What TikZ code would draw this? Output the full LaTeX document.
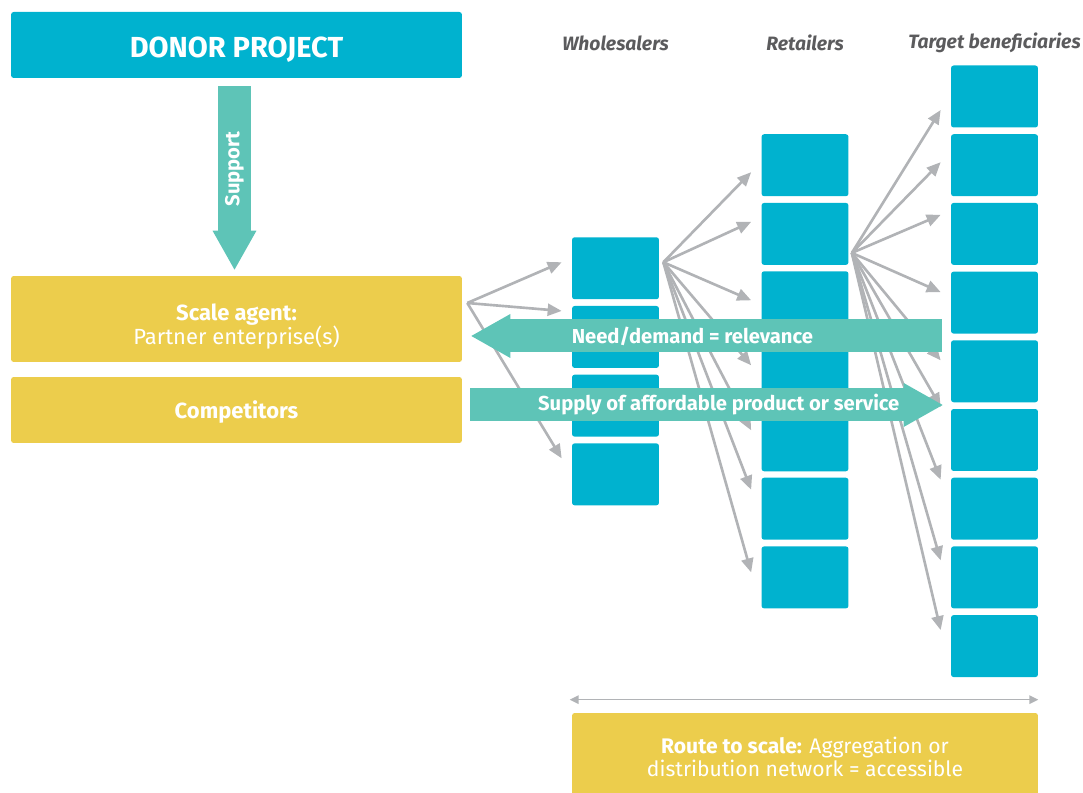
\documentclass[tikz,border=0pt]{standalone}
\usepackage{fontspec}
\setmainfont{Fira Sans}
\usetikzlibrary{arrows.meta,calc}
\definecolor{donorblue}{HTML}{00B2CF}
\definecolor{agentyellow}{HTML}{ECCD4C}
\definecolor{flowteal}{HTML}{5EC4B7}
\definecolor{fangray}{HTML}{B1B3B6}
\definecolor{labelgray}{HTML}{5B5B5D}

\begin{document}
\begin{tikzpicture}[x=0.02cm,y=-0.02cm,
        box/.style={rounded corners=1.5pt,inner sep=0pt,text=white,align=center},
        cell/.style={box,fill=donorblue,minimum width=1.74cm,minimum height=1.24cm},
        lane/.style={box,fill=agentyellow,minimum width=9.02cm},
        fan/.style={fangray,line width=1.5pt,-{Triangle[length=0.28cm,width=0.24cm]}},
        band/.style={flowteal,line width=0.66cm},
        head/.style={-{Triangle[length=0.78cm,width=0.88cm,line width=0pt]}},
        bandtext/.style={text=white,font=\fontsize{11.5}{13}\selectfont\bfseries},
        colhead/.style={text=labelgray,font=\fontsize{11}{13}\selectfont\bfseries\itshape}]
    \clip (0,0) rectangle (1083,793);
    % left side
    \node[box,fill=donorblue,minimum width=9.02cm,minimum height=1.32cm,text height=14.8pt,text depth=0pt,
          font=\fontsize{16.5}{18}\selectfont\bfseries] (donor) at (236.5,45) {DONOR PROJECT};
    \node[lane,minimum height=1.72cm,font=\fontsize{12.5}{14}\selectfont] (agent) at (236.5,319)
          {\rule{0pt}{18pt}\textbf{Scale agent:}\\Partner enterprise(s)};
    \node[lane,minimum height=1.32cm,text depth=0pt,font=\fontsize{12.5}{14}\selectfont\bfseries] (rivals) at (236.5,410)
          {Competitors};
    % the three columns
    \foreach \i in {1,...,4}
        \node[cell] (w\i) at (615.5,{268.25+68.7*(\i-1)}) {};
    \foreach \i/\u in {1/1,2/2,4/6,5/7}
        \node[cell] (r\i) at (805,{96.5+68.7*\u}) {};
    \node[cell,minimum height=4cm] (r3) at (805,371.3) {};
    \foreach \i in {1,...,9}
        \node[cell] (t\i) at (994.5,{96.5+68.7*(\i-1)}) {};
    \node[colhead] (wlab) at (615.5,43) {Wholesalers};
    \node[colhead] (rlab) at (805,43) {Retailers};
    \node[colhead] (tlab) at (994.5,43) {Target beneficiaries};
    \node[lane,minimum width=9.32cm,minimum height=1.76cm,font=\fontsize{12}{13.5}\selectfont] (route) at (805,757)
          {\textbf{Route to scale:} Aggregation or\\distribution network = accessible};
    % fans
    \coordinate (agentfan) at ($(agent.east)+(5,-16)$);
    \coordinate (wholefan) at ($(w1.east)+(4,-6)$);
    \coordinate (retailfan) at ($(r2.east)+(3,19)$);
    \foreach \b/\dy in {w1/-6,w2/-26,w4/-16}
        \draw[fan] (agentfan) -- ($(\b.west)+(-10,\dy)$);
    \foreach \b/\dy in {r1/7,r2/-12,r3/-71,r3/-6,r3/59,r4/-19,r5/-5}
        \draw[fan] (wholefan) -- ($(\b.west)+(-10,\dy)$);
    \foreach \b/\dy in {t1/13.5,t2/-3,t3/-19,t4/-10.5,t5/-11,t6/-33,t7/-29,t8/-17,t9/-16}
        \draw[fan] (retailfan) -- ($(\b.west)+(-10,\dy)$);
    \draw[fangray,line width=0.9pt,{Triangle[length=0.18cm,width=0.17cm]}-{Triangle[length=0.18cm,width=0.17cm]}]
        ($(route.north west)+(-2,-13)$) -- ($(route.north east)+(0,-13)$);
    % big flows
    \draw[band,head] ($(donor.south)+(-2,8)$) -- ($(agent.north)+(-2,-6)$)
        node[pos=0.45,rotate=90,bandtext] (support) {Support};
    \coordinate (needfrom) at ($(t4.west)+(-9,33.4)$);
    \coordinate (supplyto) at ($(t6.west)+(-8,-35)$);
    \draw[band,head] (needfrom) -- ($(agent.east |- needfrom)+(9,0)$)
        node[pos=0.53,bandtext] (need) {Need/demand = relevance};
    \draw[band,head] ($(rivals.east |- supplyto)+(8,0)$) -- (supplyto)
        node[pos=0.526,bandtext] (supply) {Supply of affordable product or service};
\end{tikzpicture}
\end{document}
